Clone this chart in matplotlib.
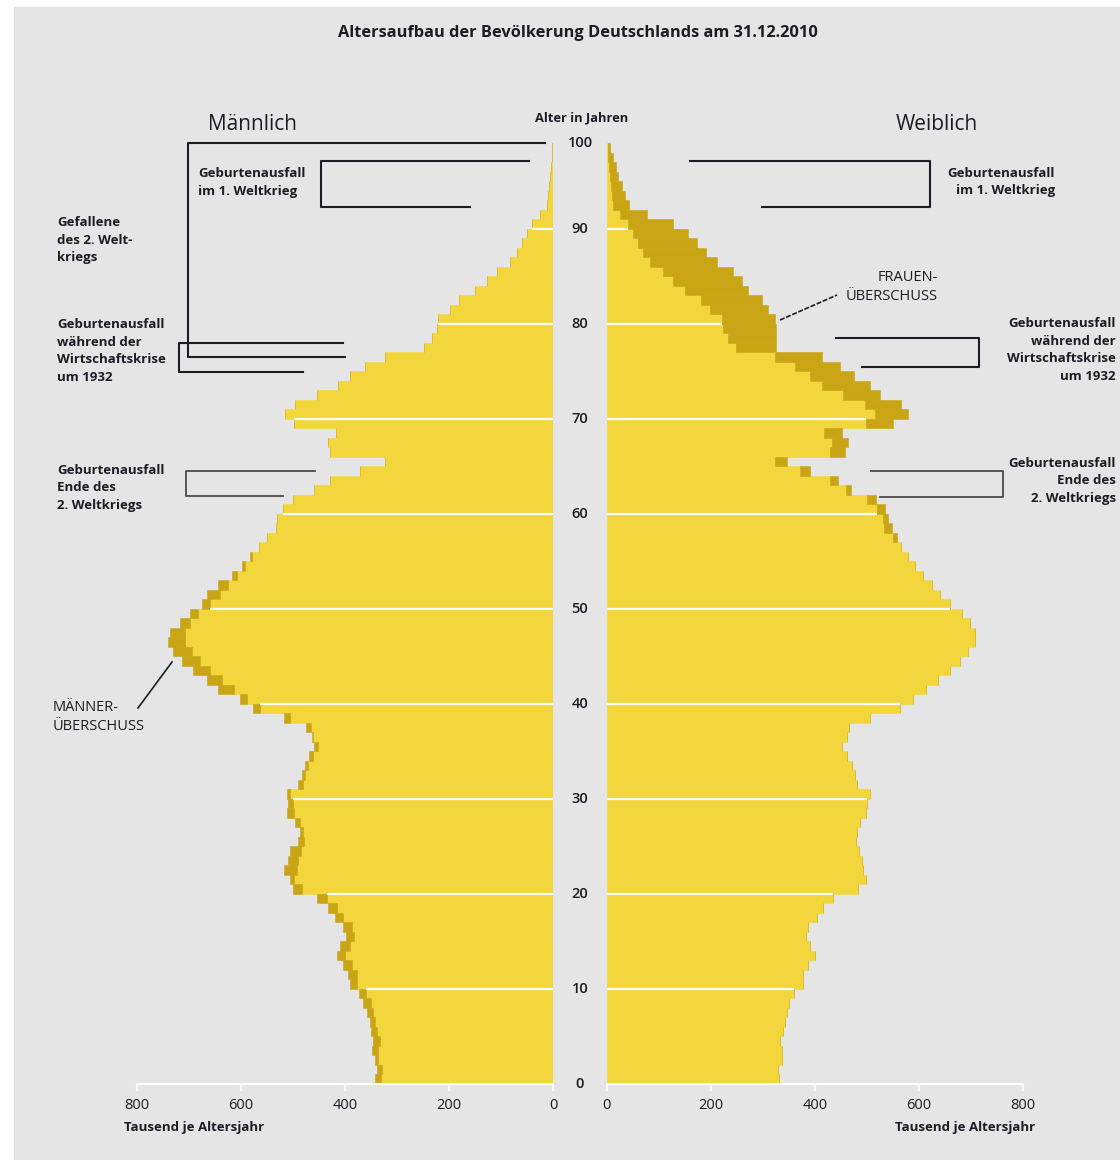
import numpy as np
import matplotlib.pyplot as plt
from matplotlib.lines import Line2D
from matplotlib.patches import Rectangle

plt.rcParams["font.family"] = ["Open Sans", "DejaVu Sans"]

# Bevoelkerung in Tausend je Altersjahr (Alter 0 bis 98)
ages = np.arange(0, 99)
male = [342, 339, 342, 349, 346, 350, 352, 358, 365, 374,
        390, 394, 403, 416, 410, 398, 403, 419, 432, 454,
        499, 505, 518, 509, 506, 490, 486, 496, 512, 509,
        512, 490, 483, 477, 470, 460, 464, 474, 518, 576,
        602, 643, 665, 691, 713, 730, 739, 736, 717, 698,
        675, 665, 643, 617, 598, 582, 566, 550, 533, 531,
        520, 500, 459, 429, 371, 323, 429, 433, 417, 497,
        515, 496, 454, 413, 390, 362, 323, 249, 233, 224,
        221, 198, 182, 150, 128, 109, 83, 70, 61, 51,
        41, 26, 13, 10, 8, 6, 4, 3, 2]
female = [331, 328, 336, 336, 333, 339, 342, 346, 351, 360,
          376, 376, 387, 400, 390, 383, 387, 403, 416, 435,
          483, 498, 493, 490, 485, 479, 481, 486, 498, 500,
          506, 480, 477, 472, 462, 452, 461, 466, 506, 563,
          589, 614, 637, 659, 678, 694, 707, 707, 698, 682,
          659, 640, 624, 608, 592, 579, 566, 557, 547, 541,
          534, 517, 470, 445, 390, 346, 458, 464, 451, 549,
          579, 566, 525, 506, 474, 448, 413, 326, 325, 325,
          324, 310, 298, 272, 259, 243, 211, 191, 173, 157,
          128, 77, 42, 35, 29, 22, 18, 13, 6]
x_ticks = [0, 200, 400, 600, 800]
age_ticks = [0, 10, 20, 30, 40, 50, 60, 70, 80, 90, 99]
age_labels = ["0", "10", "20", "30", "40", "50", "60", "70", "80", "90", "100"]

LIGHT = "#f2d63b"
DARK = "#c9a415"
BG = "#e5e5e5"
INK = "#1c1c24"

W, H = 1120, 1160


def fx(x):
    return x / W


def fy(y):
    return 1 - y / H


fig = plt.figure(figsize=(W / 100, H / 100), dpi=100, facecolor="white")
fig.add_artist(Rectangle((fx(14), 0), 1 - fx(14), fy(7), transform=fig.transFigure,
                         color=BG, zorder=-10))

m = np.array(male)
f = np.array(female)
common = np.minimum(m, f)

ax_m = fig.add_axes([fx(136.7), fy(1084), 416.6 / W, 941 / H])
ax_w = fig.add_axes([fx(606.7), fy(1084), 416.6 / W, 941 / H])

for ax, own in [(ax_m, m), (ax_w, f)]:
    ax.set_facecolor("none")
    ax.barh(ages, common, height=1, align="edge", color=LIGHT, edgecolor=LIGHT, lw=0.4)
    ax.barh(ages, own - common, left=common, height=1, align="edge",
            color=DARK, edgecolor=DARK, lw=0.4)
    for a in range(10, 99, 10):
        ax.hlines(a, 0, min(common[a - 1], common[a]), color="white", lw=1.6)
    ax.set_ylim(0, 99)
    ax.set_yticks([])
    ax.set_xticks(x_ticks)
    for s in ["top", "left", "right"]:
        ax.spines[s].set_visible(False)
    ax.spines["bottom"].set_color("white")
    ax.spines["bottom"].set_linewidth(1.5)
    ax.tick_params(axis="x", colors="white", length=5, width=1.5, pad=5,
                   labelsize=10.5, labelcolor=INK)

ax_m.set_xlim(800, 0)
ax_w.set_xlim(0, 800)

# Altersangaben in der Mitte
for a, lab in zip(age_ticks, age_labels):
    ax_m.text((580 - 136.7) / 416.6, a, lab, transform=ax_m.get_yaxis_transform(),
              ha="center", va="center", fontsize=10.5, fontweight="semibold", color=INK)

fig.text(fx(578), fy(33), "Altersaufbau der Bevölkerung Deutschlands am 31.12.2010",
         ha="center", va="center", fontsize=11.8, fontweight="bold", color=INK)
fig.text(fx(582), fy(118), "Alter in Jahren", ha="center", va="center",
         fontsize=9.3, fontweight="bold", color=INK)
fig.text(fx(253), fy(125), "Männlich", ha="center", va="center", fontsize=15, color=INK)
fig.text(fx(937), fy(125), "Weiblich", ha="center", va="center", fontsize=15, color=INK)
fig.text(fx(124), fy(1128), "Tausend je Altersjahr", ha="left", va="center",
         fontsize=9.5, fontweight="bold", color=INK)
fig.text(fx(1035), fy(1128), "Tausend je Altersjahr", ha="right", va="center",
         fontsize=9.5, fontweight="bold", color=INK)


def note(x, y, s, ha="left", size=9.5, weight="bold"):
    fig.text(fx(x), fy(y), s, ha=ha, va="center", multialignment=ha, fontsize=size,
             fontweight=weight, color=INK, linespacing=1.45)


def bracket(pts, color=INK, lw=1.5, ls="-"):
    fig.add_artist(Line2D([fx(p[0]) for p in pts], [fy(p[1]) for p in pts],
                          transform=fig.transFigure, color=color, lw=lw, ls=ls))


note(198, 182.5, "Geburtenausfall\nim 1. Weltkrieg")
note(57, 240, "Gefallene\ndes 2. Welt-\nkriegs")
note(57, 351, "Geburtenausfall\nwährend der\nWirtschaftskrise\num 1932")
note(57, 487.5, "Geburtenausfall\nEnde des\n2. Weltkriegs")
note(53, 717, "MÄNNER-\nÜBERSCHUSS", size=10.5, weight="normal")

note(1055, 182, "Geburtenausfall\nim 1. Weltkrieg", ha="right")
note(938, 287, "FRAUEN-\nÜBERSCHUSS", ha="right", size=10.5, weight="normal")
note(1116, 350, "Geburtenausfall\nwährend der\nWirtschaftskrise\num 1932", ha="right")
note(1116, 481, "Geburtenausfall\nEnde des\n2. Weltkriegs", ha="right")

bracket([(529, 161), (321, 161), (321, 207), (470, 207)])
bracket([(545, 143), (188, 143), (188, 357), (345, 357)])
bracket([(343, 343), (179, 343), (179, 372), (303, 372)])
bracket([(315, 471), (186, 471), (186, 496), (283, 496)], color="#4a4a4a", lw=1.3)
bracket([(138, 708), (172, 662)], lw=1.2)

bracket([(690, 161), (930, 161), (930, 207), (762, 207)])
bracket([(836, 338), (979, 338), (979, 367), (862, 367)])
bracket([(871, 471), (1003, 471), (1003, 497), (880, 497)], color="#4a4a4a", lw=1.3)
bracket([(780, 320), (837, 295)], lw=1.2, ls=(0, (3, 1)))

fig.savefig("out.png", dpi=100, facecolor=fig.get_facecolor())
